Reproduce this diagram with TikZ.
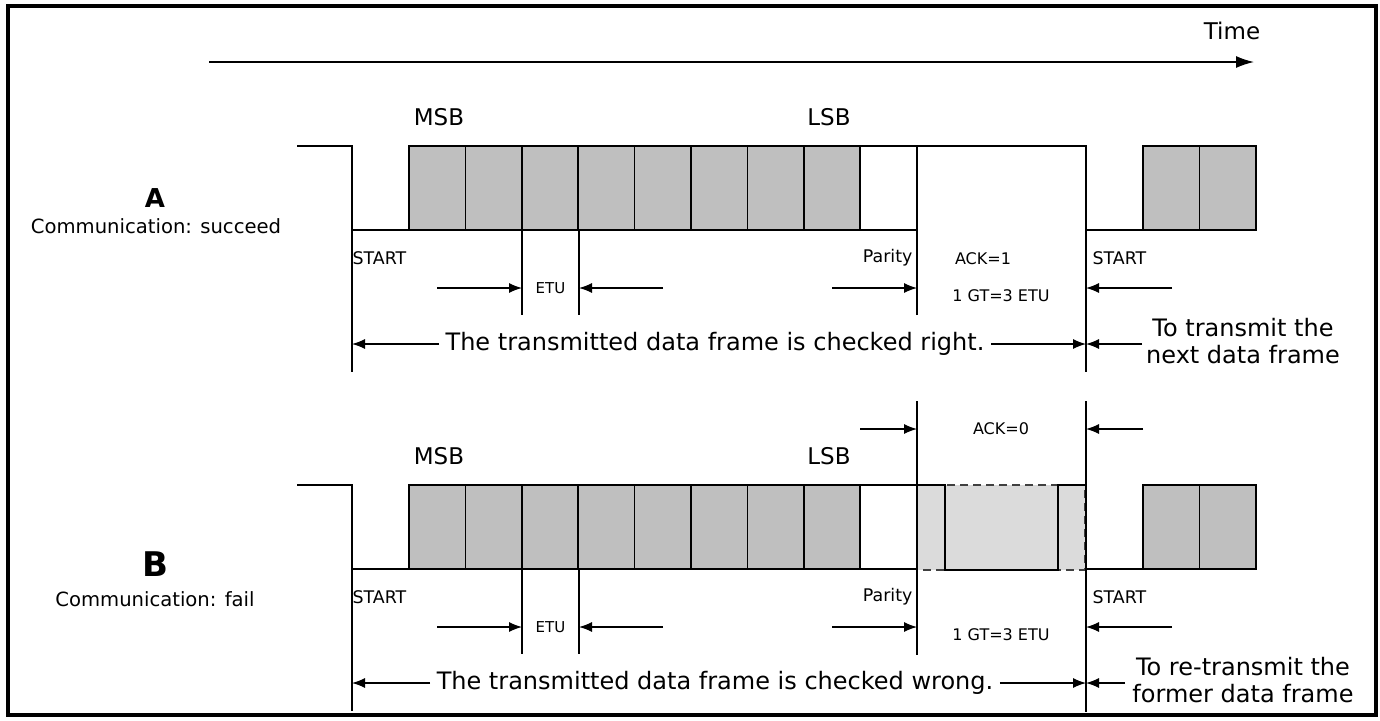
\documentclass[tikz,border=0pt]{standalone}
\usepackage{fontspec}
\setmainfont{DejaVu Sans}
\usetikzlibrary{arrows.meta,calc,positioning}

\begin{document}
\begin{tikzpicture}[x=0.5pt,y=-0.5pt,>={Latex[length=6.5pt,width=5pt]},
  every node/.style={inner sep=0pt},
  every path/.style={line width=0.6pt},
  sig/.style={line width=0.85pt},
  bitcell/.style={sig,fill=black!25},
  lblS/.style={font=\fontsize{8.7}{10}\selectfont},
  lblE/.style={font=\fontsize{7.5}{8}\selectfont},
  lblG/.style={font=\fontsize{8}{9}\selectfont},
  lblM/.style={font=\fontsize{11.5}{13}\selectfont},
  lblL/.style={font=\fontsize{12}{13.5}\selectfont}]
\useasboundingbox (0,0) rectangle (1380,720);
\draw[line width=2pt] (8,5.5) rectangle (1375.5,715);
% time axis
\node[lblM] (time) at (1232,31) {Time};
\coordinate (t0) at (209,62);
\coordinate (t1) at (1254,62);
\draw[-{Latex[length=9pt,width=6pt]},line width=0.75pt] (t0) -- (t1);
% case labels
\node[font=\fontsize{13}{14}\selectfont\bfseries] (ca) at (155,198) {A};
\node[font=\fontsize{9.8}{11}\selectfont] (cat) at (156,226) {Communication: succeed};
\node[font=\fontsize{17}{18}\selectfont\bfseries] (cb) at (155,564) {B};
\node[font=\fontsize{9.8}{11}\selectfont] (cbt) at (155,599) {Communication: fail};
% the parts both frames share
\foreach \r/\dy/\res/\nxt in {a/0/right./{To transmit the\\next data frame},
                              b/339/wrong./{To re-transmit the\\former data frame}}{
\begin{scope}[shift={(0,\dy)}]
\draw[sig] (297,146) -| (352,372);
\draw[sig] (352,230) -- (409,230);
\foreach \i in {0,...,7} \draw[bitcell] ({409+56.4*\i},146) rectangle +(56.4,84);
\draw[sig] (860,146) -- (917,146) (860,230) -- (917,230);
\draw[sig] (1086,230) -- (1143,230);
\foreach \i in {0,1} \draw[bitcell] ({1143+56.5*\i},146) rectangle +(56.5,84);
\draw[sig] (522,230) -- (522,315) (579,230) -- (579,315);
\node[lblM] (msb\r) at (439,117) {MSB};
\node[lblM] (lsb\r) at (829,117) {LSB};
\node[lblS,anchor=west] (st\r) at (352,258) {START};
\node[lblE] (etu\r) at (550.5,288) {ETU};
\draw[->] (437,288) -- (etu\r.west-|522,0);
\draw[->] (663,288) -- (etu\r.east-|579,0);
\node[lblS,anchor=east] (par\r) at (913,258) {Parity};
\draw[->] (832,288) -- (917,288);
\node[lblS,anchor=west] (nst\r) at (1092,258) {START};
\draw[->] (1172,288) -- (1086,288);
\node[lblG] (gt\r) at (1001,296) {1 GT=3 ETU};
\node[lblL,inner sep=3pt] (fr\r) at (715,344) {The transmitted data frame is checked \res};
\draw[->] (fr\r.west) -- (352,344);
\draw[->] (fr\r.east) -- (1086,344);
\node[lblL,align=center] (nx\r) at (1243,341) {\nxt};
\end{scope}}
% A: acknowledge high
\draw[sig] (917,315) |- (1086,146) -- (1086,372);
\node[lblG] (ack1) at (983,259) {ACK=1};
\draw[->] (1142,344) -- (1086,344);
% B: acknowledge low, repeat
\fill[black!14] (917,485) rectangle (1085,570);
\draw[sig,black!75,dash pattern=on 4pt off 2.5pt] (917,485) rectangle (1085,570);
\draw[sig] (917,485) -| (945,570) -| (1058,485) -- (1086,485);
\draw[sig] (917,401) -- (917,655);
\draw[sig] (1086,401) -- (1086,712);
\node[lblG] (ack0) at (1001,429) {ACK=0};
\draw[->] (860,429) -- (917,429);
\draw[->] (1143,429) -- (1086,429);
\draw[->] (1125,683) -- (1086,683);
\end{tikzpicture}
\end{document}
